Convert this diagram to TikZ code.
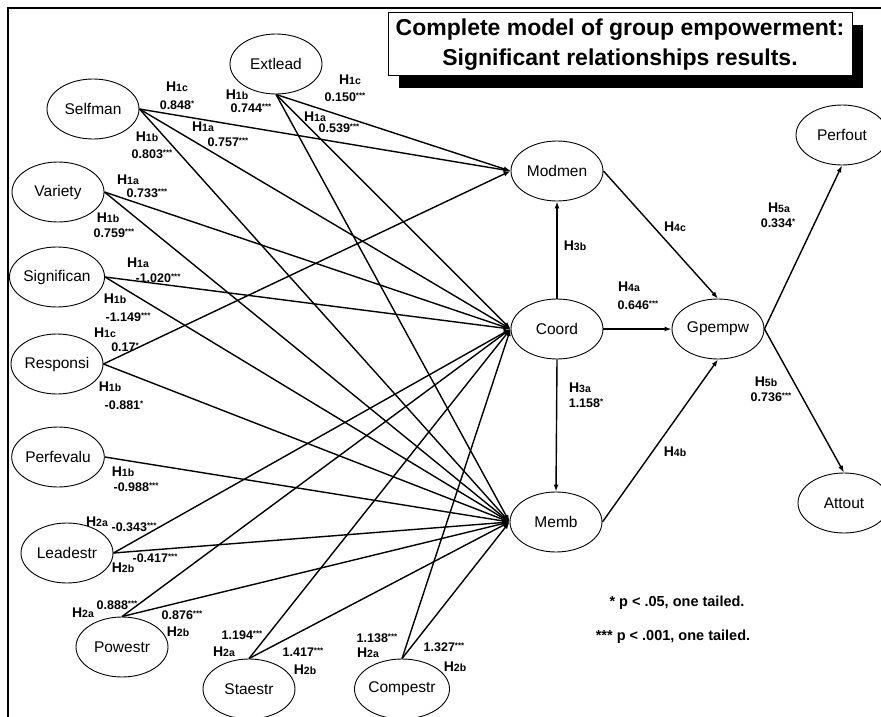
\documentclass[tikz,border=0pt]{standalone}
\usepackage{fontspec}
\setmainfont{Liberation Sans}
\usetikzlibrary{shapes.geometric,arrows.meta,shadows}

% hypothesis tag: large H, smaller index
\newcommand\hyp[1]{{\fontsize{14}{14}\selectfont H}{\fontsize{10.5}{11}\selectfont #1}}
% path estimate with raised significance stars
\newcommand\est[2]{{\fontsize{12.5}{13}\selectfont #1}\raisebox{3pt}{\fontsize{8}{8}\selectfont #2}}

\tikzset{
  latent/.style={ellipse, draw, line width=0.9pt, minimum width=92pt, minimum height=60pt,
                 inner sep=0pt, font=\fontsize{15.5}{16}\selectfont},
  link/.style={line width=1.4pt, -{Latex[length=7pt,width=5pt]}},
  lab/.style={inner sep=0pt, font=\bfseries},
  legend/.style={inner sep=0pt, font=\fontsize{14.5}{15}\selectfont\bfseries},
}

\begin{document}
\begin{tikzpicture}[x=1pt,y=-1pt]
\useasboundingbox (0,0) rectangle (881,717);

% outer frame (top and left edges)
\coordinate (fbl) at (8,717);
\coordinate (ftl) at (8,8);
\coordinate (ftr) at (881,8);
\draw[line width=1.2pt] (fbl) -- (ftl) -- (ftr);

% title
\node (title) [draw, fill=white, line width=1pt, minimum width=464pt, minimum height=63pt,
  inner sep=0pt, align=center, font=\fontsize{23}{30}\selectfont\bfseries,
  drop shadow={shadow xshift=11pt, shadow yshift=-12pt, fill=black, opacity=1}]
  at (620,44.5) {Complete model of group empowerment:\\Significant relationships results.};

% constructs
\node[latent] (selfman)  at (93,109)  {Selfman};
\node[latent] (extlead)  at (276,64)  {Extlead};
\node[latent] (variety)  at (58,192)  {Variety};
\node[latent] (signif)   at (57,277)  {Significan};
\node[latent] (respons)  at (57,364)  {Responsi};
\node[latent] (perfeval) at (58,457)  {Perfevalu};
\node[latent] (leadestr) at (67,553)  {Leadestr};
\node[latent] (powestr)  at (122,647) {Powestr};
\node[latent] (staestr)  at (249,689) {Staestr};
\node[latent] (compestr) at (402,689) {Compestr};
\node[latent] (modmen)   at (557,171) {Modmen};
\node[latent] (coord)    at (557,329) {Coord};
\node[latent] (memb)     at (556,522) {Memb};
\node[latent] (gpempw)   at (718,329) {Gpempw};
\node[latent] (perfout)  at (842,135) {Perfout};
\node[latent] (attout)   at (844,503) {Attout};

% antecedents -> mediators
\foreach \s in {selfman.east, extlead.south, respons.east}
  \draw[link] (\s) -- (modmen.west);
\foreach \s in {selfman.east, extlead.south, variety.east, signif.east,
                leadestr.east, powestr.north, staestr.north, compestr.north}
  \draw[link] (\s) -- (coord.west);
\foreach \s in {selfman.east, extlead.south, variety.east, signif.east, respons.east,
                perfeval.east, leadestr.east, powestr.north, staestr.north, compestr.north}
  \draw[link] (\s) -- (memb.west);

% structural paths
\draw[link] (coord.north) -- (modmen.south);
\draw[link] (coord.south) -- (memb.north);
\draw[link] (coord.east) -- (gpempw.west);
\draw[link] (modmen.east) -- (gpempw.north);
\draw[link] (memb.east) -- (gpempw.south);
\draw[link] (gpempw.east) -- (perfout.south);
\draw[link] (gpempw.east) -- (attout.north);

% path labels: Selfman
\node[lab] (l1)  at (177,87)  {\hyp{1c}};
\node[lab] (l2)  at (177,105) {\est{0.848}{*}};
\node[lab] (l3)  at (203,127) {\hyp{1a}};
\node[lab] (l4)  at (228,142) {\est{0.757}{***}};
\node[lab] (l5)  at (147,137) {\hyp{1b}};
\node[lab] (l6)  at (152,154) {\est{0.803}{***}};
% Extlead
\node[lab] (l7)  at (237,95)  {\hyp{1b}};
\node[lab] (l8)  at (251,108) {\est{0.744}{***}};
\node[lab] (l9)  at (350,80)  {\hyp{1c}};
\node[lab] (l10) at (345,97)  {\est{0.150}{***}};
\node[lab] (l11) at (315,117) {\hyp{1a}};
\node[lab] (l12) at (339,128) {\est{0.539}{***}};
% Variety
\node[lab] (l13) at (128,180) {\hyp{1a}};
\node[lab] (l14) at (147,193) {\est{0.733}{***}};
\node[lab] (l15) at (108,218) {\hyp{1b}};
\node[lab] (l16) at (114,233) {\est{0.759}{***}};
% Significan
\node[lab] (l17) at (138,263) {\hyp{1a}};
\node[lab] (l18) at (158,278) {\est{-1.020}{***}};
\node[lab] (l19) at (115,299) {\hyp{1b}};
\node[lab] (l20) at (128,317) {\est{-1.149}{***}};
% Responsi
\node[lab] (l21) at (105,333) {\hyp{1c}};
\node[lab] (l22) at (125,347) {\est{0.17}{*}};
\node[lab] (l23) at (110,387) {\hyp{1b}};
\node[lab] (l24) at (124,405) {\est{-0.881}{*}};
% Perfevalu
\node[lab] (l25) at (123,472) {\hyp{1b}};
\node[lab] (l26) at (136,487) {\est{-0.988}{***}};
% Leadestr
\node[lab] (l27) at (97,522)  {\hyp{2a}};
\node[lab] (l28) at (134,527) {\est{-0.343}{***}};
\node[lab] (l29) at (155,558) {\est{-0.417}{***}};
\node[lab] (l30) at (123,568) {\hyp{2b}};
% Powestr
\node[lab] (l31) at (83,613)  {\hyp{2a}};
\node[lab] (l32) at (117,605) {\est{0.888}{***}};
\node[lab] (l33) at (182,615) {\est{0.876}{***}};
\node[lab] (l34) at (178,632) {\hyp{2b}};
% Staestr
\node[lab] (l35) at (242,635) {\est{1.194}{***}};
\node[lab] (l36) at (224,652) {\hyp{2a}};
\node[lab] (l37) at (303,652) {\est{1.417}{***}};
\node[lab] (l38) at (305,670) {\hyp{2b}};
% Compestr
\node[lab] (l39) at (377,638) {\est{1.138}{***}};
\node[lab] (l40) at (368,653) {\hyp{2a}};
\node[lab] (l41) at (444,647) {\est{1.327}{***}};
\node[lab] (l42) at (455,667) {\hyp{2b}};
% structural paths
\node[lab] (l43) at (575,246) {\hyp{3b}};
\node[lab] (l44) at (629,287) {\hyp{4a}};
\node[lab] (l45) at (638,305) {\est{0.646}{***}};
\node[lab] (l46) at (580,388) {\hyp{3a}};
\node[lab] (l47) at (586,403) {\est{1.158}{*}};
\node[lab] (l48) at (675,227) {\hyp{4c}};
\node[lab] (l49) at (675,452) {\hyp{4b}};
\node[lab] (l50) at (779,208) {\hyp{5a}};
\node[lab] (l51) at (778,223) {\est{0.334}{*}};
\node[lab] (l52) at (766,382) {\hyp{5b}};
\node[lab] (l53) at (771,397) {\est{0.736}{***}};

% significance legend
\node[legend] (n1) at (677,603) {* p < .05, one tailed.};
\node[legend] (n2) at (673,637) {*** p < .001, one tailed.};
\end{tikzpicture}
\end{document}
